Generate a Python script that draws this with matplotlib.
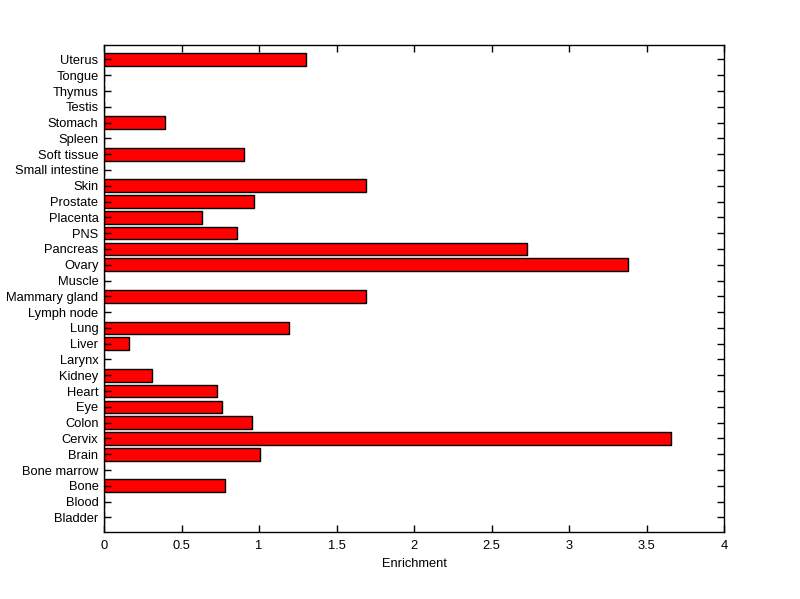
import matplotlib
matplotlib.use("Agg")
import matplotlib.pyplot as plt

tissues = ["Bladder", "Blood", "Bone", "Bone marrow", "Brain", "Cervix", "Colon",
           "Eye", "Heart", "Kidney", "Larynx", "Liver", "Lung", "Lymph node",
           "Mammary gland", "Muscle", "Ovary", "Pancreas", "PNS", "Placenta",
           "Prostate", "Skin", "Small intestine", "Soft tissue", "Spleen",
           "Stomach", "Testis", "Thymus", "Tongue", "Uterus"]
enrichment = [0, 0, 0.78, 0, 1.005, 3.66, 0.955,
              0.76, 0.73, 0.31, 0, 0.16, 1.195, 0,
              1.69, 0, 3.38, 2.73, 0.86, 0.63,
              0.97, 1.69, 0, 0.905, 0,
              0.395, 0, 0, 0, 1.30]

plt.rcParams['font.family'] = ['Liberation Sans', 'DejaVu Sans']
plt.rcParams['font.size'] = 9.3

fig = plt.figure(figsize=(8, 5.99), dpi=100)
ax = fig.add_axes([0.13, 0.112, 0.775, 0.813])

pos = list(range(len(tissues)))
ax.barh(pos, enrichment, height=0.8, color='#ff0000', edgecolor='black', linewidth=1)

ax.set_xlim(0, 4)
ax.set_ylim(-0.92, len(tissues) - 0.08)
ax.set_xticks([0, 0.5, 1, 1.5, 2, 2.5, 3, 3.5, 4])
ax.set_xticklabels(['0', '0.5', '1', '1.5', '2', '2.5', '3', '3.5', '4'])
ax.set_yticks(pos)
ax.set_yticklabels(tissues)
ax.tick_params(direction='in', length=5, width=1, top=True, right=True)
ax.tick_params(axis='x', pad=6)
ax.tick_params(axis='y', pad=4)
for s in ax.spines.values():
    s.set_linewidth(1)
ax.set_xlabel('Enrichment', labelpad=4)

fig.savefig('out.png', dpi=100)
